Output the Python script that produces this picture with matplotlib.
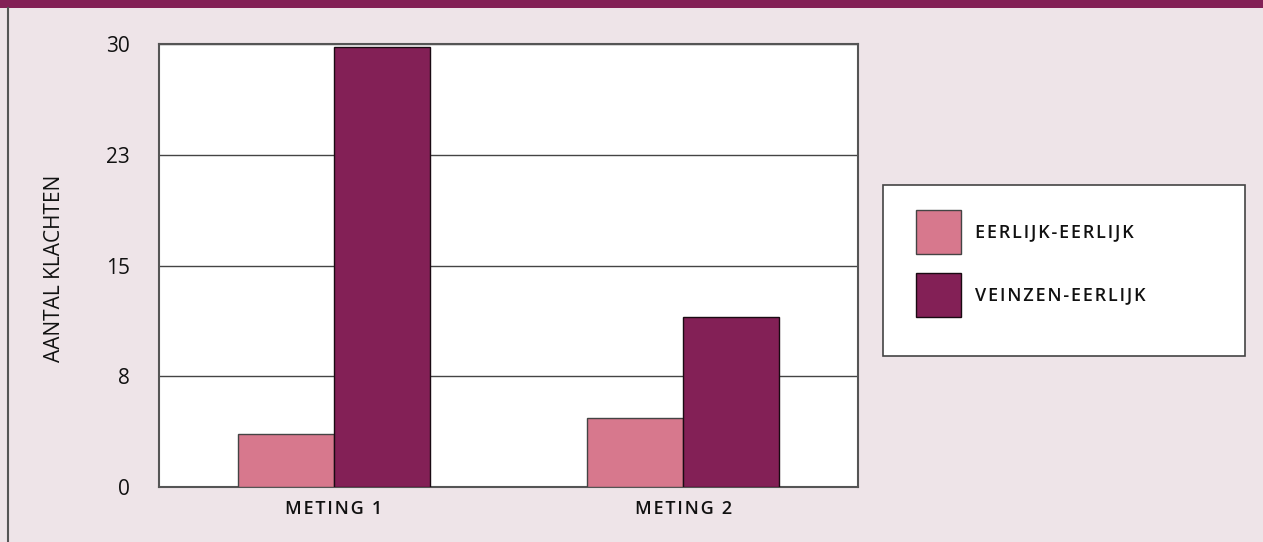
import numpy as np
from matplotlib import pyplot as plt
from matplotlib.patches import Rectangle
from matplotlib.lines import Line2D

categories = ['METING 1', 'METING 2']
eerlijk = [3.6, 4.7]
veinzen = [29.8, 11.5]
series_names = ['EERLIJK-EERLIJK', 'VEINZEN-EERLIJK']
yticks = [0, 7.5, 15, 22.5, 30]
ytick_labels = ['0', '8', '15', '23', '30']

bg = '#EEE4E8'
pink = '#D7788D'
plum = '#832056'
edge = '#444444'

W, H = 1263, 542

plt.rcParams['font.family'] = ['Open Sans', 'DejaVu Sans']


def track(s):
    # wide letter spacing like the original small caps
    return '\u200a'.join(s)


fig = plt.figure(figsize=(W / 100, H / 100), dpi=100, facecolor=bg)

# top band and left rule
fig.patches.append(Rectangle((0, 1 - 8 / H), 1, 8 / H, transform=fig.transFigure,
                             facecolor=plum, edgecolor='none'))
fig.lines.append(Line2D([8 / W, 8 / W], [0, 1 - 8 / H], transform=fig.transFigure,
                        color='#555555', lw=1.5))

ax = fig.add_axes([159 / W, 1 - 487 / H, 699 / W, 443 / H])
ax.set_facecolor('white')

x = np.arange(len(categories))
w = 0.274
ax.bar(x - w / 2, eerlijk, w, color=pink, edgecolor=edge, linewidth=1, zorder=3)
ax.bar(x + w / 2, veinzen, w, color=plum, edgecolor='#1a0a12', linewidth=1, zorder=3)

ax.set_xlim(-0.5, 1.5)
ax.set_ylim(0, 30)
ax.set_yticks(yticks)
ax.set_yticklabels(ytick_labels, fontsize=15)
ax.set_xticks(x)
ax.set_xticklabels([track(c) for c in categories], fontsize=13, fontweight='semibold')
ax.tick_params(axis='both', length=0, colors='#111111')
ax.tick_params(axis='y', pad=21)
ax.tick_params(axis='x', pad=9)
ax.grid(axis='y', color='#444444', linewidth=1, zorder=1)
for s in ax.spines.values():
    s.set_color('#555555')
    s.set_linewidth(1.5)

fig.text(55 / W, 1 - 268 / H, 'AANTAL KLACHTEN', rotation=90, ha='center', va='center',
         fontsize=15, color='#111111')

# legend box drawn by hand to match the original size
fig.patches.append(Rectangle((883 / W, 1 - 356 / H), 362 / W, 171 / H, transform=fig.transFigure,
                             facecolor='white', edgecolor='#444444', linewidth=1.2))
colors = [pink, plum]
edges = [edge, '#1a0a12']
for i, name in enumerate(series_names):
    yc = 232 + i * 63
    fig.patches.append(Rectangle((916 / W, 1 - (yc + 22) / H), 45 / W, 44 / H,
                                 transform=fig.transFigure, facecolor=colors[i],
                                 edgecolor=edges[i], linewidth=1))
    fig.text(975 / W, 1 - yc / H, track(name), ha='left', va='center', fontsize=13,
             fontweight='semibold', color='#111111')

fig.savefig('out.png', dpi=100, facecolor=bg)
